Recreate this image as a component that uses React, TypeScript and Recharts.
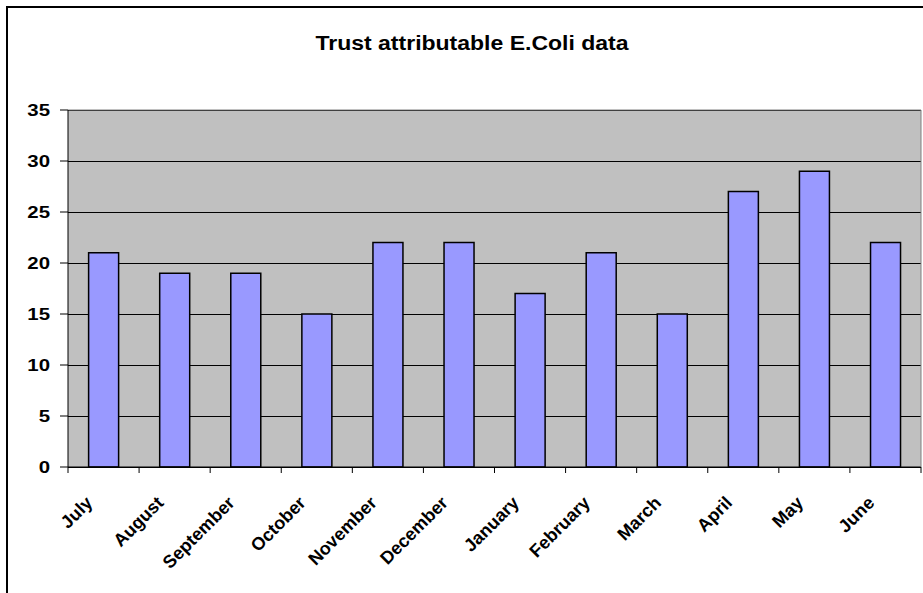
import React from 'react';
import {
  Bar,
  BarChart,
  CartesianGrid,
  ReferenceLine,
  XAxis,
  YAxis,
} from 'recharts';

const months = [
  'July',
  'August',
  'September',
  'October',
  'November',
  'December',
  'January',
  'February',
  'March',
  'April',
  'May',
  'June',
];
const ecoliCases = [21, 19, 19, 15, 22, 22, 17, 21, 15, 27, 29, 22];
const yTicks = [0, 5, 10, 15, 20, 25, 30, 35];

const FONT = "Arial, 'Liberation Sans', sans-serif";
const W = 923;
const H = 593;

const chartData = months.map((month, i) => ({ month, cases: ecoliCases[i] }));

// y labels are drawn slightly stretched, like the old spreadsheet export
function YTick(props: any) {
  const { x, y, payload } = props;
  return (
    <g transform={`translate(${x},${y}) scale(1.2,1)`}>
      <text
        textAnchor='end'
        dy='0.36em'
        fontFamily={FONT}
        fontWeight='bold'
        fontSize={17}
        fill='#000'
      >
        {payload.value}
      </text>
    </g>
  );
}

// month label plus the tick marks sitting on the category boundaries
function MonthTick(props: any) {
  const { x, y, payload, index } = props;
  const half = payload?.offset ?? 0;
  const axisY = y - 8;
  return (
    <g>
      <line x1={x - half} x2={x - half} y1={axisY} y2={axisY + 6} stroke='#000' />
      {index === months.length - 1 && (
        <line x1={x + half} x2={x + half} y1={axisY} y2={axisY + 6} stroke='#000' />
      )}
      <text
        transform={`translate(${x - 10},${axisY + 37}) rotate(-45)`}
        textAnchor='end'
        fontFamily={FONT}
        fontWeight='bold'
        fontSize={18}
        fill='#000'
      >
        {payload.value}
      </text>
    </g>
  );
}

export default function App() {
  return (
    <div
      style={{
        position: 'absolute',
        left: 0,
        top: 0,
        width: W,
        height: H,
        overflow: 'hidden',
        background: '#fff',
      }}
    >
      <div
        style={{
          position: 'absolute',
          left: 6,
          top: 6,
          width: W + 20,
          height: H + 20,
          borderTop: '2px solid #000',
          borderLeft: '2px solid #000',
        }}
      />
      <div
        style={{
          position: 'absolute',
          left: 472,
          top: 31,
          transform: 'translateX(-50%) scale(1.15,1)',
          whiteSpace: 'nowrap',
          fontFamily: FONT,
          fontWeight: 'bold',
          fontSize: 20,
          lineHeight: '24px',
          color: '#000',
        }}
      >
        Trust attributable E.Coli data
      </div>
      <BarChart
        width={W}
        height={H}
        data={chartData}
        margin={{ top: 110, right: 1, bottom: 0, left: 0 }}
        barCategoryGap='29%'
        style={{ position: 'absolute', left: 0, top: 0 }}
      >
        <CartesianGrid
          yAxisId='left'
          vertical={false}
          stroke='#000'
          shapeRendering='crispEdges'
          fill='#C0C0C0'
          fillOpacity={1}
        />
        <XAxis
          dataKey='month'
          height={126}
          interval={0}
          axisLine={{ stroke: '#000' }}
          tickLine={false}
          tick={<MonthTick />}
        />
        <YAxis
          yAxisId='left'
          width={68}
          domain={[0, 35]}
          ticks={yTicks}
          interval={0}
          axisLine={{ stroke: '#000' }}
          tickLine={{ stroke: '#000' }}
          tickSize={8}
          tickMargin={10}
          tick={<YTick />}
        />
        <YAxis
          yAxisId='right'
          orientation='right'
          width={1}
          domain={[0, 35]}
          tick={false}
          tickLine={false}
          axisLine={{ stroke: '#808080' }}
        />
        <ReferenceLine yAxisId='left' y={35} stroke='#808080' />
        <Bar
          yAxisId='left'
          dataKey='cases'
          fill='#9999FF'
          stroke='#000'
          strokeWidth={1.5}
          isAnimationActive={false}
        />
      </BarChart>
    </div>
  );
}
